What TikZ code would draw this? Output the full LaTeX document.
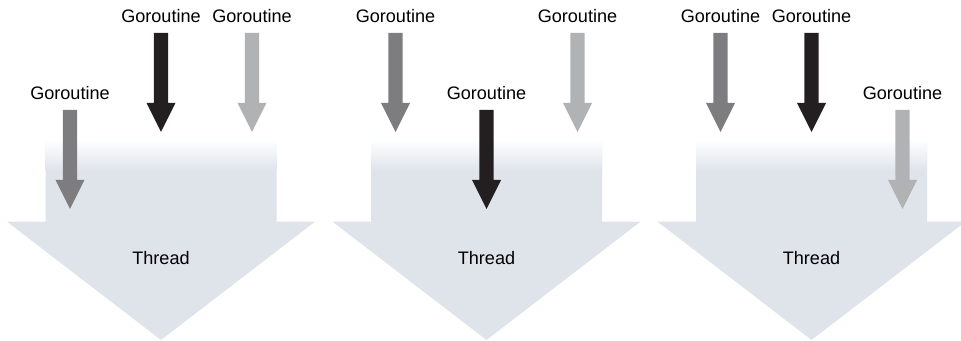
\documentclass[tikz,border=0pt]{standalone}
\usepackage{fontspec}
\setmainfont{Liberation Sans}
\usepackage{tikz}
\usetikzlibrary{calc}

\definecolor{threadfill}{HTML}{DFE3EA}
\definecolor{godark}{HTML}{231F20}
\definecolor{gomid}{HTML}{7D7D80}
\definecolor{golight}{HTML}{B1B2B4}

% fat goroutine arrow: x, top y, colour
\newcommand{\goarrow}[3]{%
  \fill[#3] (#1-7.2,#2) -- (#1+7.2,#2) -- (#1+7.2,#2-70) -- (#1+14.5,#2-70)
    -- (#1,#2-99) -- (#1-14.5,#2-70) -- (#1-7.2,#2-70) -- cycle;}

\begin{document}
\begin{tikzpicture}[x=0.02cm,y=0.02cm,
  golabel/.style={font=\fontsize{10.3}{12}\selectfont,inner sep=0pt},
  threadlabel/.style={font=\fontsize{10.3}{12}\selectfont,inner sep=0pt}]
\useasboundingbox (0,0) rectangle (961,341);
\clip (0,0) rectangle (961,341);
\foreach \p/\c/\ya/\yb/\yc in {1/161/231/308/308,2/486.5/308/231/308,3/811.5/308/308/231}{
  % thread arrow
  \fill[threadfill] (\c-115.5,201) -- (\c+115.5,201) -- (\c+115.5,119.3) -- (\c+154,119.3)
    -- (\c,1) -- (\c-154,119.3) -- (\c-115.5,119.3) -- cycle;
  \shade[top color=white,bottom color=threadfill] (\c-115.5,170) rectangle (\c+115.5,201.5);
  \node[threadlabel] (thread\p) at (\c,83) {Thread};
  % goroutines
  \goarrow{\c-91}{\ya}{gomid}
  \goarrow{\c}{\yb}{godark}
  \goarrow{\c+91}{\yc}{golight}
  \node[golabel] (goa\p) at (\c-91,\ya+17) {Goroutine};
  \node[golabel] (gob\p) at (\c,\yb+17) {Goroutine};
  \node[golabel] (goc\p) at (\c+91,\yc+17) {Goroutine};
}
\end{tikzpicture}
\end{document}
